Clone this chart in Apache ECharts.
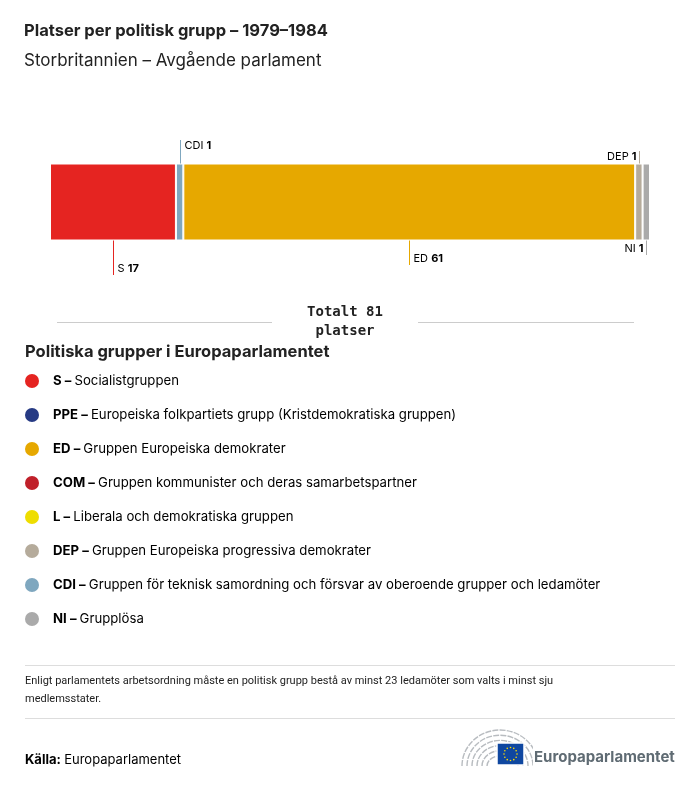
<!DOCTYPE html>
<html>
<head>
<meta charset="utf-8">
<script src="https://cdn.jsdelivr.net/npm/echarts@6/dist/echarts.min.js"></script>
<style>html,body{margin:0;padding:0;background:#fff}#c{width:700px;height:786px}</style>
</head>
<body>
<div id="c"></div>
<script>
const categories = ['Storbritannien'];
const groups = ['S', 'CDI', 'ED', 'DEP', 'NI'];
const seats = [17, 1, 61, 1, 1];
const totalSeats = 81;
const groupColors = ['#e52421', '#7fa7bf', '#e6a800', '#b5ab9b', '#aaaaaa'];
const labelSide = ['bottom', 'top', 'bottom', 'top', 'bottom'];
const labelAlign = ['left', 'left', 'left', 'right', 'right'];
const labelLineLen = [35, 24, 25, 13, 15];

const legendCodes = ['S', 'PPE', 'ED', 'COM', 'L', 'DEP', 'CDI', 'NI'];
const legendNames = [
  'Socialistgruppen',
  'Europeiska folkpartiets grupp (Kristdemokratiska gruppen)',
  'Gruppen Europeiska demokrater',
  'Gruppen kommunister och deras samarbetspartner',
  'Liberala och demokratiska gruppen',
  'Gruppen Europeiska progressiva demokrater',
  'Gruppen för teknisk samordning och försvar av oberoende grupper och ledamöter',
  'Grupplösa'
];
const legendColors = ['#e52421', '#263a84', '#e6a800', '#c0202a', '#eedd00', '#b5ab9b', '#7fa7bf', '#aaaaaa'];

const FONT = 'Inter, "Noto Sans", sans-serif';
const chart = echarts.init(document.getElementById('c'), null, {renderer: 'canvas'});

const series = groups.map((g, i) => ({
  name: g,
  type: 'bar',
  stack: 'total',
  barWidth: 77,
  data: [seats[i]],
  itemStyle: {color: groupColors[i], borderColor: '#fff', borderWidth: 1},
  emphasis: {disabled: true},
  animation: false
}));

chart.setOption({
  animation: false,
  title: {
    text: 'Platser per politisk grupp – 1979–1984',
    subtext: 'Storbritannien – Avgående parlament',
    left: 19, top: 18,
    itemGap: 12,
    textStyle: {fontFamily: FONT, fontSize: 16.5, fontWeight: 'bold', color: '#222'},
    subtextStyle: {fontFamily: FONT, fontSize: 17, color: '#222'}
  },
  grid: {left: 50, right: 50, top: 163.5, height: 77},
  xAxis: {type: 'value', min: 0, max: totalSeats, show: false},
  yAxis: {type: 'category', data: categories, show: false},
  series: series
});

const g = [];
let cum = 0;
const yTop = 164;
const yBot = 240;
groups.forEach((name, i) => {
  const px = chart.convertToPixel({gridIndex: 0}, [cum + seats[i] / 2, 0])[0];
  cum += seats[i];
  const x = Math.round(px) + 0.5;
  const len = labelLineLen[i];
  const up = labelSide[i] === 'top';
  const y1 = up ? yTop - len : yBot;
  const y2 = up ? yTop : yBot + len;
  g.push({type: 'line', shape: {x1: x, y1: y1, x2: x, y2: y2}, style: {stroke: groupColors[i], lineWidth: 1}, silent: true});
  const left = labelAlign[i] === 'left';
  const ty = up ? y1 + 6 : y2 - 6;
  g.push({
    type: 'text', x: left ? x + 4 : x - 3, y: ty,
    style: {
      text: '{n|' + name + ' }{v|' + seats[i] + '}',
      align: left ? 'left' : 'right', verticalAlign: 'middle',
      rich: {
        n: {fontFamily: FONT, fontSize: 11, color: '#222'},
        v: {fontFamily: FONT, fontSize: 11, fontWeight: 'bold', color: '#222'}
      }
    }
  });
});

// total
g.push({type: 'line', shape: {x1: 57, y1: 322.5, x2: 272, y2: 322.5}, style: {stroke: '#ccc', lineWidth: 1}});
g.push({type: 'line', shape: {x1: 418, y1: 322.5, x2: 634, y2: 322.5}, style: {stroke: '#ccc', lineWidth: 1}});
g.push({type: 'text', x: 345, y: 322, style: {text: 'Totalt ' + totalSeats + '\nplatser', align: 'center', verticalAlign: 'middle', lineHeight: 19, fontFamily: '"DejaVu Sans Mono", monospace', fontSize: 14, fontWeight: 'bold', fill: '#222'}});

// legend
g.push({type: 'text', x: 25, y: 352, style: {text: 'Politiska grupper i Europaparlamentet', verticalAlign: 'middle', fontFamily: FONT, fontSize: 16.5, fontWeight: 'bold', fill: '#222'}});
legendCodes.forEach((c, i) => {
  const y = 381 + i * 34;
  g.push({type: 'circle', shape: {cx: 32, cy: y, r: 7}, style: {fill: legendColors[i]}});
  g.push({type: 'text', x: 53, y: y, style: {
    text: '{b|' + c + ' – }{r|' + legendNames[i] + '}', verticalAlign: 'middle',
    rich: {
      b: {fontFamily: FONT, fontSize: 13.2, fontWeight: 'bold', color: '#222'},
      r: {fontFamily: FONT, fontSize: 13.2, color: '#222'}
    }
  }});
});

// footer
g.push({type: 'line', shape: {x1: 25, y1: 665.5, x2: 675, y2: 665.5}, style: {stroke: '#ddd', lineWidth: 1}});
g.push({type: 'text', x: 25, y: 690, style: {text: 'Enligt parlamentets arbetsordning måste en politisk grupp bestå av minst 23 ledamöter som valts i minst sju\nmedlemsstater.', verticalAlign: 'middle', lineHeight: 18, fontFamily: 'Roboto, sans-serif', fontSize: 11, fill: '#222'}});
g.push({type: 'line', shape: {x1: 25, y1: 718.5, x2: 675, y2: 718.5}, style: {stroke: '#ddd', lineWidth: 1}});
g.push({type: 'text', x: 25, y: 760, style: {text: '{b|Källa:} {r|Europaparlamentet}', verticalAlign: 'middle', rich: {
  b: {fontFamily: FONT, fontSize: 13, fontWeight: 'bold', color: '#222'},
  r: {fontFamily: FONT, fontSize: 13, color: '#222'}
}}});

// logo (hemicycle)
for (let k = 0; k < 6; k++) {
  const rx = 13 + k * 5, ry = 10 + k * 5.2;
  g.push({type: 'ellipse', shape: {cx: 500, cy: 766, rx: rx, ry: ry}, style: {stroke: '#b8bcc0', lineWidth: 1.4, fill: null, lineDash: [6, 1.2]}, clipPath: {type: 'rect', shape: {x: 455, y: 720, width: 78, height: 46}}});
}
g.push({type: 'rect', shape: {x: 497, y: 743, width: 27, height: 22}, style: {fill: '#0f47a0', stroke: '#fff', lineWidth: 1.5}});
for (let k = 0; k < 12; k++) {
  const a = k * Math.PI / 6;
  g.push({type: 'circle', shape: {cx: 510.5 + 6.5 * Math.cos(a), cy: 754 + 6.5 * Math.sin(a), r: 0.8}, style: {fill: '#ffdd00'}});
}
g.push({type: 'text', x: 534, y: 757, style: {text: 'Europaparlamentet', verticalAlign: 'middle', fontFamily: FONT, fontSize: 15, fontWeight: 'bold', fill: '#5f6b73'}});

chart.setOption({graphic: {elements: g}});
</script>
</body>
</html>
